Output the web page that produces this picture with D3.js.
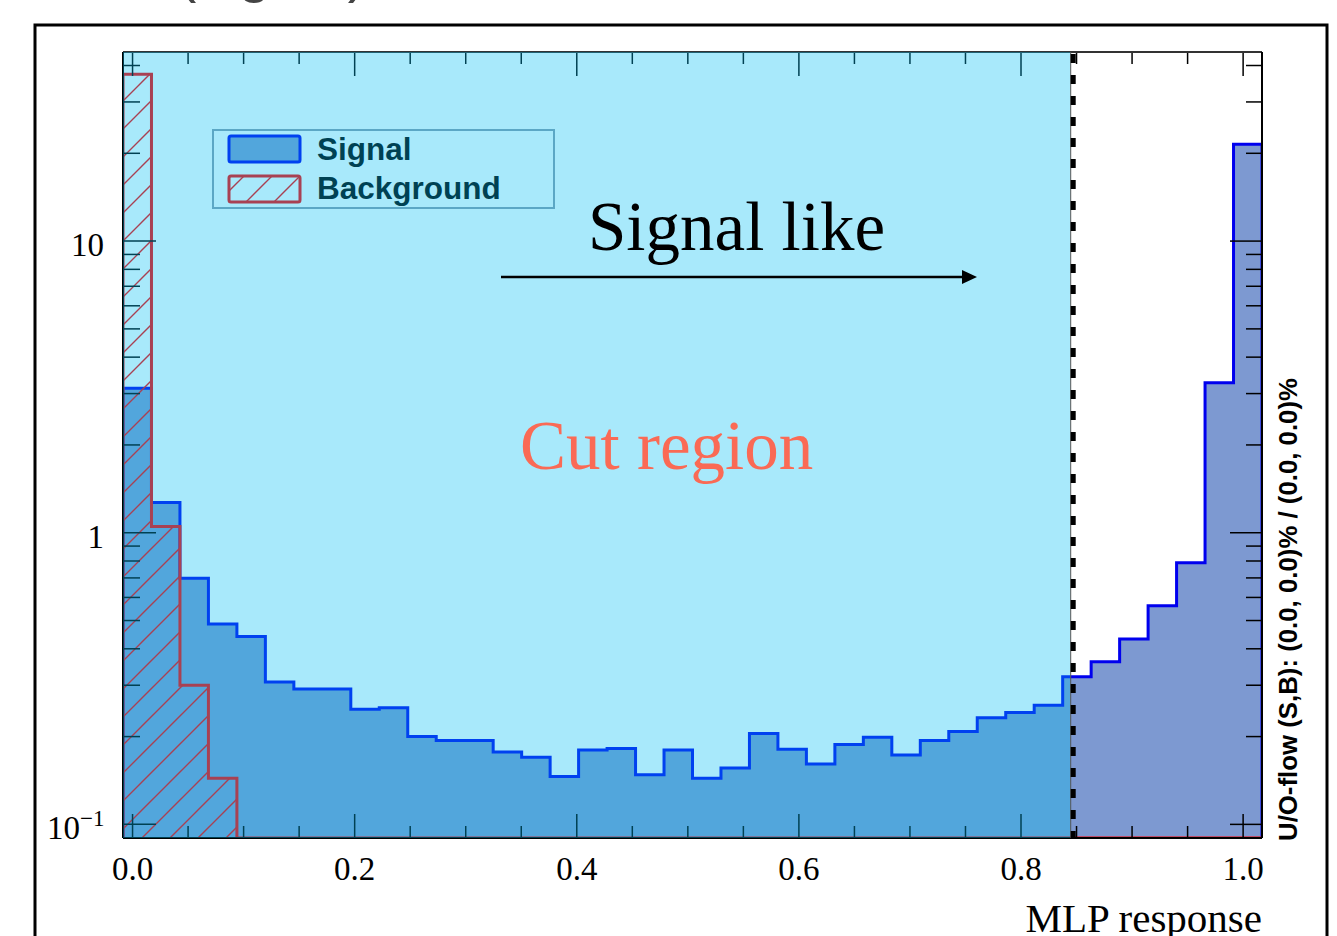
<!DOCTYPE html>
<html>
<head>
<meta charset="utf-8">
<script src="https://cdn.jsdelivr.net/npm/d3@7"></script>
<style>
  html, body { margin: 0; padding: 0; background: #ffffff; }
  svg { display: block; }
</style>
</head>
<body>
<svg id="chart" width="1337" height="936"></svg>
<script>
// ---------------- data ----------------
const xRange = [-0.0086, 1.017];         // histogram range (40 bins)
const nBins = 40;
const signalValues = [
  3.13, 1.27, 0.698, 0.486, 0.441, 0.308, 0.291, 0.291, 0.248, 0.251,
  0.200, 0.194, 0.194, 0.177, 0.170, 0.146, 0.180, 0.182, 0.148, 0.180,
  0.144, 0.156, 0.205, 0.181, 0.161, 0.188, 0.199, 0.173, 0.194, 0.208,
  0.232, 0.242, 0.256, 0.321, 0.361, 0.432, 0.562, 0.789, 3.27, 21.5
];
const backgroundValues = [
  37.3, 1.05, 0.30, 0.144, 0, 0, 0, 0, 0, 0,
  0, 0, 0, 0, 0, 0, 0, 0, 0, 0,
  0, 0, 0, 0, 0, 0, 0, 0, 0, 0,
  0, 0, 0, 0, 0, 0, 0, 0, 0, 0
];
const yDomain = [0.0898, 44.5];
const xTickValues = [0, 0.2, 0.4, 0.6, 0.8, 1.0];
const xTickLabels = ["0.0", "0.2", "0.4", "0.6", "0.8", "1.0"];
const xMinorStep = 0.05;
const yMajorTicks = [0.1, 1, 10];
const cutValue = 0.847;
const legendLabels = ["Signal", "Background"];
const xTitle = "MLP response";
const overflowLabel = "U/O-flow (S,B): (0.0, 0.0)% / (0.0, 0.0)%";
const arrowText = "Signal like";
const regionText = "Cut region";
const titleFragment = "(signal)";

// ---------------- layout ----------------
const svg = d3.select("#chart");
const L = 123, R = 1262, T = 52, B = 838;
const x = d3.scaleLinear().domain(xRange).range([L, R]);
const y = d3.scaleLog().domain(yDomain).range([B, T]);
const binW = (xRange[1] - xRange[0]) / nBins;
const edges = d3.range(nBins + 1).map(i => xRange[0] + i * binW);

const sigFill = "#7d99d1", sigLine = "#0000ee", bkgColor = "#ff0000";
const serif = "'Liberation Serif', 'Times New Roman', serif";
const sans = "'Liberation Sans', Arial, Helvetica, sans-serif";

const defs = svg.append("defs");
const hatch = defs.append("pattern").attr("id", "hatch")
  .attr("patternUnits", "userSpaceOnUse").attr("width", 28).attr("height", 28);
hatch.append("path").attr("d", "M-7,7 L7,-7 M0,28 L28,0 M21,35 L35,21")
  .attr("stroke", bkgColor).attr("stroke-width", 1.4).attr("fill", "none");
defs.append("clipPath").attr("id", "plotclip").append("rect")
  .attr("x", L).attr("y", T).attr("width", R - L).attr("height", B - T);

// truncated title at the top
svg.append("text").attr("x", 177).attr("y", -9)
  .attr("font-family", sans).attr("font-size", 58).attr("fill", "#444")
  .text(titleFragment);

// outer frame
svg.append("rect").attr("x", 35).attr("y", 25).attr("width", 1292).attr("height", 960)
  .attr("fill", "none").attr("stroke", "#000").attr("stroke-width", 3);

function stepPath(vals, closed) {
  const yv = v => v > 0 ? y(v) : B;
  let p = `M${x(edges[0])},${B}`;
  vals.forEach((v, i) => {
    p += `L${x(edges[i])},${yv(v)}L${x(edges[i + 1])},${yv(v)}`;
  });
  p += `L${x(edges[nBins])},${B}`;
  if (closed) p += "Z";
  return p;
}

const plot = svg.append("g").attr("clip-path", "url(#plotclip)");
// signal
plot.append("path").attr("d", stepPath(signalValues, true))
  .attr("fill", sigFill).attr("stroke", "none");
plot.append("path").attr("d", stepPath(signalValues, false))
  .attr("fill", "none").attr("stroke", sigLine).attr("stroke-width", 3);
// background
plot.append("path").attr("d", stepPath(backgroundValues, true))
  .attr("fill", "url(#hatch)").attr("stroke", "none");
plot.append("path").attr("d", stepPath(backgroundValues, false))
  .attr("fill", "none").attr("stroke", bkgColor).attr("stroke-width", 3);

// axes ticks
const ticks = svg.append("g").attr("stroke", "#000").attr("stroke-width", 1.5);
const xMinor = d3.range(0, 1.0001, xMinorStep);
xMinor.forEach(v => {
  const major = xTickValues.some(t => Math.abs(t - v) < 1e-6);
  const len = major ? 24 : 12;
  ticks.append("line").attr("x1", x(v)).attr("x2", x(v)).attr("y1", B).attr("y2", B - len);
  ticks.append("line").attr("x1", x(v)).attr("x2", x(v)).attr("y1", T).attr("y2", T + len);
});
const yMinor = [];
[0.1, 1, 10].forEach(d => { for (let k = 1; k <= 9; k++) yMinor.push(d * k); });
yMinor.filter(v => v >= yDomain[0] && v <= yDomain[1]).forEach(v => {
  const major = yMajorTicks.some(t => Math.abs(t - v) < 1e-9);
  const lenL = major ? 33 : 17, lenR = major ? 32 : 16;
  ticks.append("line").attr("x1", L).attr("x2", L + lenL).attr("y1", y(v)).attr("y2", y(v));
  ticks.append("line").attr("x1", R).attr("x2", R - lenR).attr("y1", y(v)).attr("y2", y(v));
});

// frame of plot
svg.append("line").attr("x1", L).attr("x2", R).attr("y1", T).attr("y2", T).attr("stroke", "#333").attr("stroke-width", 2);
svg.append("line").attr("x1", L).attr("x2", R).attr("y1", B).attr("y2", B).attr("stroke", "#000").attr("stroke-width", 2);
svg.append("line").attr("x1", L).attr("x2", L).attr("y1", T).attr("y2", B).attr("stroke", "#000").attr("stroke-width", 2);
svg.append("line").attr("x1", R).attr("x2", R).attr("y1", T).attr("y2", B).attr("stroke", "#000").attr("stroke-width", 2);

// legend
const lg = svg.append("g");
lg.append("rect").attr("x", 213).attr("y", 130).attr("width", 341).attr("height", 78)
  .attr("fill", "none").attr("stroke", "#8a9cad").attr("stroke-width", 2);
lg.append("rect").attr("x", 229).attr("y", 136).attr("width", 71).attr("height", 26).attr("rx", 2)
  .attr("fill", sigFill).attr("stroke", sigLine).attr("stroke-width", 3);
lg.append("rect").attr("x", 229).attr("y", 176).attr("width", 71).attr("height", 26).attr("rx", 2)
  .attr("fill", "url(#hatch)").attr("stroke", bkgColor).attr("stroke-width", 3);
lg.selectAll("text.leg").data(legendLabels).enter().append("text")
  .attr("x", 317).attr("y", (d, i) => 160 + i * 39)
  .attr("font-family", sans).attr("font-weight", "bold").attr("font-size", 31.5).attr("fill", "#000")
  .text(d => d);

// cut region overlay
const xc = x(cutValue);
svg.append("rect").attr("x", L).attr("y", T).attr("width", xc - 2.5 - L).attr("height", B - T)
  .attr("fill", "rgb(0,190,243)").attr("fill-opacity", 0.34);
svg.append("line").attr("x1", xc - 2.5).attr("x2", xc - 2.5).attr("y1", T).attr("y2", B)
  .attr("stroke", "#555").attr("stroke-width", 1);
svg.append("line").attr("x1", xc).attr("x2", xc).attr("y1", T + 2).attr("y2", B)
  .attr("stroke", "#000").attr("stroke-width", 5).attr("stroke-dasharray", "9,12");

// annotations
svg.append("text").attr("x", 588).attr("y", 250)
  .attr("font-family", serif).attr("font-size", 69).attr("fill", "#000").text(arrowText);
svg.append("line").attr("x1", 501).attr("x2", 964).attr("y1", 277).attr("y2", 277)
  .attr("stroke", "#000").attr("stroke-width", 2.5);
svg.append("path").attr("d", "M962,270 L977,277 L962,284 Z").attr("fill", "#000");
svg.append("text").attr("x", 520).attr("y", 469)
  .attr("font-family", serif).attr("font-size", 69).attr("fill", "#fa6a55").text(regionText);

// tick labels
svg.selectAll("text.xl").data(xTickValues).enter().append("text")
  .attr("x", d => x(d)).attr("y", 880).attr("text-anchor", "middle")
  .attr("font-family", serif).attr("font-size", 33).attr("fill", "#000")
  .text((d, i) => xTickLabels[i]);
svg.append("text").attr("x", 104).attr("y", y(10) + 15).attr("text-anchor", "end")
  .attr("font-family", serif).attr("font-size", 33).text("10");
svg.append("text").attr("x", 104).attr("y", y(1) + 15).attr("text-anchor", "end")
  .attr("font-family", serif).attr("font-size", 33).text("1");
const tm = svg.append("text").attr("x", 47).attr("y", y(0.1) + 15)
  .attr("font-family", serif).attr("font-size", 33);
tm.append("tspan").text("10");
tm.append("tspan").attr("dy", -13).attr("font-size", 23).text("\u22121");

// axis title
svg.append("text").attr("x", R).attr("y", 932).attr("text-anchor", "end")
  .attr("font-family", serif).attr("font-size", 41).attr("fill", "#000").text(xTitle);

// overflow label
svg.append("text").attr("transform", "translate(1297,841) rotate(-90)")
  .attr("font-family", sans).attr("font-weight", "bold").attr("font-size", 25.8).attr("fill", "#000")
  .text(overflowLabel);
</script>
</body>
</html>
